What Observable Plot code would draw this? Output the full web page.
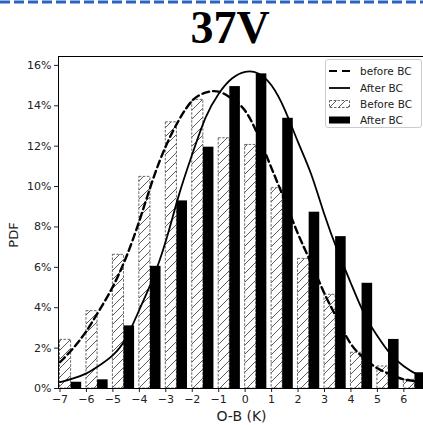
<!DOCTYPE html>
<html><head><meta charset="utf-8">
<script src="https://cdn.jsdelivr.net/npm/d3@7"></script>
<script src="https://cdn.jsdelivr.net/npm/@observablehq/plot@0.6"></script>
<style>
html,body{margin:0;padding:0;background:#fff;}
#wrap{position:relative;width:423px;height:425px;overflow:hidden;background:#fff;}
#border{position:absolute;left:0;top:0;}
#title{position:absolute;left:230px;top:4.5px;transform:translateX(-50%);font-family:"Liberation Serif","Times New Roman",serif;font-weight:bold;font-size:46px;line-height:46px;color:#000;white-space:nowrap;}
#chart{position:absolute;left:0;top:50px;}
</style></head><body>
<div id="wrap">
<svg id="border" width="423" height="6"><line x1="0" x2="423" y1="2" y2="2" stroke="#2a63c4" stroke-width="3" stroke-dasharray="10,4"/></svg>
<div id="title">37V</div>
<div id="chart"></div>
</div>
<script>
// Histogram bins (left edge of each bin, K)
const bins = [-7, -6, -5, -4, -3, -2, -1, 0, 1, 2, 3, 4, 5, 6];
// Bar heights in percent
const beforeBC = [2.41, 3.83, 6.62, 10.48, 13.18, 14.29, 12.39, 12.06, 9.92, 6.42, 4.64, 1.77, 1.09, 0.43];
const afterBC  = [0.31, 0.43, 3.10, 6.05, 9.29, 11.95, 14.95, 15.58, 13.38, 8.73, 7.52, 5.21, 2.43, 0.78];

// Fitted curves (percent)
const curveX = [-7, -6.5, -6, -5.5, -5, -4.5, -4, -3.5, -3, -2.5, -2, -1.5, -1, -0.5, 0, 0.5, 1, 1.5, 2, 2.5, 3, 3.5, 4, 4.5, 5, 5.5, 6, 6.5, 7];
const beforeCurve = [1.30, 2.00, 2.85, 3.90, 5.05, 6.50, 8.30, 10.30, 12.00, 13.30, 14.25, 14.65, 14.70, 14.35, 13.75, 12.50, 10.90, 9.30, 7.65, 6.20, 4.70, 3.40, 2.20, 1.50, 1.00, 0.70, 0.45, 0.35, 0.20];
const afterCurve  = [0.31, 0.50, 0.75, 1.15, 1.65, 2.50, 3.90, 5.40, 7.30, 9.60, 11.60, 13.40, 14.60, 15.35, 15.68, 15.60, 15.00, 13.80, 12.20, 10.60, 8.60, 6.80, 5.20, 3.70, 2.60, 1.70, 1.10, 0.70, 0.45];

const xTicks = [-7, -6, -5, -4, -3, -2, -1, 0, 1, 2, 3, 4, 5, 6];
const yTicks = [0, 2, 4, 6, 8, 10, 12, 14, 16];
const legendLabels = ["before BC", "After BC", "Before BC", "After BC"];

const barRows = bins.map((b, i) => ({b, before: beforeBC[i], after: afterBC[i]}));
const beforeRows = curveX.map((x, i) => ({x, y: beforeCurve[i]}));
const afterRows = curveX.map((x, i) => ({x, y: afterCurve[i]}));

const W = 423, H = 375, ML = 58, MR = 0, MT = 6, MB = 37;
const xDom = [-7.057, 6.743], yDom = [0, 16.44];

const plot = Plot.plot({
  width: W, height: H, marginLeft: ML, marginRight: MR, marginTop: MT, marginBottom: MB,
  style: {fontFamily: "'DejaVu Sans', sans-serif", fontSize: "11px", color: "#222", background: "transparent", overflow: "hidden"},
  x: {domain: xDom, ticks: xTicks, tickFormat: d => d < 0 ? "\u2212" + (-d) : String(d), tickSize: 4, tickPadding: 3, label: null},
  y: {domain: yDom, ticks: yTicks, tickFormat: d => d + "%", tickSize: 4, tickPadding: 3, label: null},
  marks: [
    Plot.rectY(barRows, {x1: d => d.b, x2: d => d.b + 0.42, y: "before", inset: 0, fill: "url(#hatchBC)", stroke: "#555", strokeWidth: 0.9, strokeDasharray: "2.5,1.5", clip: true}),
    Plot.rectY(barRows, {x1: d => d.b + 0.42, x2: d => d.b + 0.82, y: "after", inset: 0, fill: "#000", clip: true}),
    Plot.line(beforeRows, {x: "x", y: "y", stroke: "#000", strokeWidth: 2.4, strokeDasharray: "7,4", curve: "natural", clip: true}),
    Plot.line(afterRows, {x: "x", y: "y", stroke: "#000", strokeWidth: 1.8, curve: "natural", clip: true}),
    Plot.ruleY([0], {stroke: "#000", strokeWidth: 1}),
    Plot.ruleY([yDom[1]], {stroke: "#000", strokeWidth: 1}),
    Plot.ruleX([xDom[0]], {stroke: "#000", strokeWidth: 1})
  ]
});

const svg = d3.select(plot);
svg.insert("defs", ":first-child").html(
  '<pattern id="hatchBC" patternUnits="userSpaceOnUse" width="9" height="9">' +
  '<rect width="9" height="9" fill="#fff"/>' +
  '<path d="M-1,1 l2,-2 M0,9 l9,-9 M8,10 l2,-2" stroke="#333" stroke-width="0.8"/></pattern>');

// Axis labels
svg.append("text").attr("transform", "translate(13,185) rotate(-90)")
  .attr("text-anchor", "middle").attr("dominant-baseline", "central")
  .attr("font-family", "'DejaVu Sans', sans-serif").attr("font-size", 13).attr("fill", "#222").text("PDF");
svg.append("text").attr("x", 241.5).attr("y", 366)
  .attr("text-anchor", "middle").attr("dominant-baseline", "central")
  .attr("font-family", "'DejaVu Sans', sans-serif").attr("font-size", 14).attr("fill", "#222").text("O-B (K)");

// Legend
const lg = svg.append("g").attr("font-family", "'DejaVu Sans', sans-serif").attr("font-size", 10.5).attr("fill", "#222").attr("text-anchor", "start");
lg.append("rect").attr("x", 325.5).attr("y", 9.5).attr("width", 96).attr("height", 68).attr("rx", 2.5)
  .attr("fill", "#fff").attr("fill-opacity", 0.85).attr("stroke", "#ccc");
const ys = [21, 38, 54, 70];
lg.append("line").attr("x1", 329).attr("x2", 350).attr("y1", ys[0]).attr("y2", ys[0]).attr("stroke", "#000").attr("stroke-width", 2).attr("stroke-dasharray", "8,5");
lg.append("line").attr("x1", 329).attr("x2", 350).attr("y1", ys[1]).attr("y2", ys[1]).attr("stroke", "#000").attr("stroke-width", 1.8);
lg.append("rect").attr("x", 329.5).attr("y", ys[2] - 3.5).attr("width", 20).attr("height", 7).attr("fill", "url(#hatchBC)").attr("stroke", "#555").attr("stroke-width", 0.9).attr("stroke-dasharray", "2.5,1.5");
lg.append("rect").attr("x", 329).attr("y", ys[3] - 3.5).attr("width", 21).attr("height", 7).attr("fill", "#000");
legendLabels.forEach((t, i) => {
  lg.append("text").attr("x", 360).attr("y", ys[i]).attr("text-anchor", "start").attr("dominant-baseline", "central").text(t);
});

document.getElementById("chart").appendChild(plot);
</script>
</body></html>
